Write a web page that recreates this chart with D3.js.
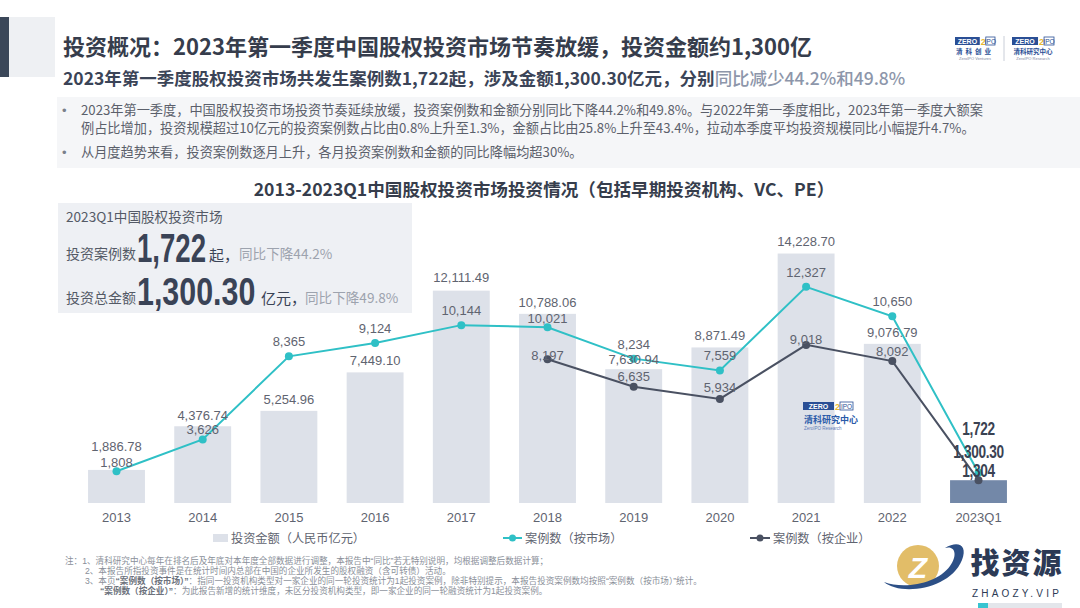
<!DOCTYPE html>
<html><head><meta charset="utf-8">
<script src="https://cdn.jsdelivr.net/npm/d3@7"></script>
<style>
body{margin:0;background:#fff;}
svg{display:block;}
text{font-family:"Liberation Sans","Noto Sans CJK SC",sans-serif;}
.cjk{font-family:"Noto Sans CJK SC","Liberation Sans",sans-serif;}
</style></head>
<body><svg id="c" width="1080" height="608"></svg>
<script>
// ---------- data ----------
const categories = ["2013","2014","2015","2016","2017","2018","2019","2020","2021","2022","2023Q1"];
const amount = [1886.78, 4376.74, 5254.96, 7449.10, 12111.49, 10788.06, 7630.94, 8871.49, 14228.70, 9076.79, 1300.30];
const casesMarket = [1808, 3626, 8365, 9124, 10144, 10021, 8234, 7559, 12327, 10650, 1722];
const casesCompany = [null, null, null, null, null, 8197, 6635, 5934, 9018, 8092, 1304];
const legendLabels = ["投资金额（人民币亿元）", "案例数（按市场）", "案例数（按企业）"];
const titleText = "投资概况：2023年第一季度中国股权投资市场节奏放缓，投资金额约1,300亿";
const subtitleMain = "2023年第一季度股权投资市场共发生案例数1,722起，涉及金额1,300.30亿元，分别";
const subtitleHi = "同比减少44.2%和49.8%";
const bullets = [
  ["2023年第一季度，中国股权投资市场投资节奏延续放缓，投资案例数和金额分别同比下降44.2%和49.8%。与2022年第一季度相比，2023年第一季度大额案",
   "例占比增加，投资规模超过10亿元的投资案例数占比由0.8%上升至1.3%，金额占比由25.8%上升至43.4%，拉动本季度平均投资规模同比小幅提升4.7%。"],
  ["从月度趋势来看，投资案例数逐月上升，各月投资案例数和金额的同比降幅均超30%。"]
];
const chartTitle = "2013-2023Q1中国股权投资市场投资情况（包括早期投资机构、VC、PE）";
const notes = [
  "注：1、清科研究中心每年在排名后及年底对本年度全部数据进行调整，本报告中“同比”若无特别说明，均根据调整后数据计算；",
  "2、本报告所指投资事件是在统计时间内总部在中国的企业所发生的股权融资（含可转债）活动。"
];

// label offset styles (center of label relative to anchor, px)
const barLabelOff = [-24, -11, -12, -12, -13, -12, -10, -12, -12.5, -12, -28.5];
const mktLabelOff = [-8.6, -10, -14.6, -14.7, -14.4, -9, -14.6, -14.7, -14.5, -14.5, -43.5];
const compLabelOff = [0, 0, 0, 0, 0, -4, -10, -12, -6, -9.5, -9.5];

const svg = d3.select("#c");
const fmt2 = d3.format(",.2f"), fmt0 = d3.format(",");

// ---------- header ----------
svg.append("rect").attr("x",0).attr("y",17).attr("width",9).attr("height",60).attr("fill","#3b4759");
svg.append("rect").attr("x",9).attr("y",17).attr("width",46).attr("height",60).attr("fill","#eef0f3");
svg.append("text").attr("class","cjk").attr("x",63).attr("y",55).attr("font-size",22).attr("font-weight",700)
  .attr("fill","#363d4c").text(titleText);
const sub = svg.append("text").attr("class","cjk").attr("x",63).attr("y",85).attr("font-size",17.5).attr("font-weight",700).attr("fill","#3b4457");
sub.append("tspan").text(subtitleMain);
sub.append("tspan").attr("fill","#8d96aa").attr("font-weight",500).text(subtitleHi);

// header logos
function zeroLogo(g, x, y, w){
  const bw = w*0.62;
  g.append("rect").attr("x",x).attr("y",y).attr("width",bw).attr("height",8).attr("fill","#2a4f95");
  g.append("text").attr("x",x+bw/2).attr("y",y+6.6).attr("text-anchor","middle").attr("font-size",7).attr("font-weight",700).attr("fill","#fff").text("ZERO");
  g.append("text").attr("x",x+bw+1).attr("y",y+7.5).attr("font-size",9).attr("font-weight",700).attr("fill","#e8b830").text("2");
  g.append("rect").attr("x",x+bw+6).attr("y",y).attr("width",w-bw-6).attr("height",8).attr("fill","#fff").attr("stroke","#2a4f95").attr("stroke-width",0.8);
  g.append("text").attr("x",x+bw+6+(w-bw-6)/2).attr("y",y+6.6).attr("text-anchor","middle").attr("font-size",6.5).attr("fill","#2a4f95").text("IPO");
}
const hl = svg.append("g");
zeroLogo(hl, 955, 37, 40);
hl.append("text").attr("class","cjk").attr("x",975).attr("y",54).attr("text-anchor","middle").attr("font-size",6.5).attr("font-weight",700).attr("fill","#2a4f95").attr("letter-spacing",3).text("清科创业");
hl.append("text").attr("x",975).attr("y",60).attr("text-anchor","middle").attr("font-size",4).attr("fill","#7f8aa3").text("ZeroIPO Ventures");
hl.append("line").attr("x1",1004).attr("x2",1004).attr("y1",36).attr("y2",61).attr("stroke","#c9ced8");
zeroLogo(hl, 1012, 37, 42);
hl.append("text").attr("class","cjk").attr("x",1033).attr("y",54).attr("text-anchor","middle").attr("font-size",6.5).attr("font-weight",700).attr("fill","#2a4f95").text("清科研究中心");
hl.append("text").attr("x",1033).attr("y",60).attr("text-anchor","middle").attr("font-size",4).attr("fill","#7f8aa3").text("ZeroIPO Research");

// ---------- bullets ----------
svg.append("rect").attr("x",57).attr("y",97).attr("width",1023).attr("height",71).attr("fill","#f5f6f8");
const bl = [[115,133],[157]];
bullets.forEach((lines,i)=>{
  svg.append("text").attr("x",62).attr("y",bl[i][0]).attr("font-size",13).attr("fill","#7a808b").text("•");
  lines.forEach((t,j)=>{
    svg.append("text").attr("class","cjk").attr("x",81).attr("y",bl[i][j]).attr("font-size",13.2).attr("fill","#5b606b").text(t);
  });
});

// ---------- chart title ----------
svg.append("text").attr("class","cjk").attr("x",544).attr("y",195.5).attr("text-anchor","middle")
  .attr("font-size",17.6).attr("font-weight",700).attr("fill","#363d4c").text(chartTitle);

// ---------- scales ----------
const x = d3.scaleBand().domain(categories).range([73.4, 1021.6]).paddingInner(0.34).paddingOuter(0.17);
const y = d3.scaleLinear().domain([0, 15000]).range([503, 240]);
const cx = c => x(c) + x.bandwidth()/2;
const last = categories.length - 1;

// bars
svg.append("g").selectAll("rect").data(categories).join("rect")
  .attr("x", c => x(c)).attr("width", x.bandwidth())
  .attr("y", (c,i) => y(amount[i])).attr("height", (c,i) => y(0) - y(amount[i]))
  .attr("fill", (c,i) => i === last ? "#7388a8" : "#dde1e9");

// watermark logo in chart
const wm = svg.append("g");
zeroLogo(wm, 803, 402, 50);
wm.append("text").attr("class","cjk").attr("x",804).attr("y",423).attr("font-size",9).attr("font-weight",700).attr("fill","#2a5aa8").text("清科研究中心");
wm.append("text").attr("x",804).attr("y",429.5).attr("font-size",4.5).attr("fill","#5f7db8").text("ZeroIPO Research");

// axis
const ax = svg.append("g").attr("transform","translate(0,503)")
  .call(d3.axisBottom(x).tickSize(0).tickPadding(10));
ax.select(".domain").remove();
ax.selectAll("text").attr("font-size",13).attr("fill","#5f6470").attr("font-family","Liberation Sans, sans-serif");

// lines
const mktLine = d3.line().x((d,i)=>cx(categories[i])).y(d=>y(d));
svg.append("path").datum(casesMarket).attr("d", mktLine).attr("fill","none").attr("stroke","#2fc0c6").attr("stroke-width",2);
const compPts = casesCompany.map((v,i)=>({c:categories[i], v})).filter(d=>d.v!=null);
svg.append("path").datum(compPts).attr("d", d3.line().x(d=>cx(d.c)).y(d=>y(d.v)))
  .attr("fill","none").attr("stroke","#4a5162").attr("stroke-width",2);
svg.append("g").selectAll("circle").data(casesMarket).join("circle")
  .attr("cx",(d,i)=>cx(categories[i])).attr("cy",d=>y(d)).attr("r",4).attr("fill","#2fc0c6");
svg.append("g").selectAll("circle").data(compPts).join("circle")
  .attr("cx",d=>cx(d.c)).attr("cy",d=>y(d.v)).attr("r",4).attr("fill","#4a5162");

// labels
function label(xp, yc, txt, bold){
  const t = svg.append("text").attr("text-anchor","middle").text(txt);
  if(bold){
    t.attr("transform",`translate(${xp},${yc+6}) scale(0.78,1)`)
     .attr("font-weight",700).attr("font-size",17.5).attr("fill","#3a4252").attr("letter-spacing",-0.4);
  } else {
    t.attr("x",xp).attr("y",yc+4.7).attr("font-size",13).attr("fill","#5f6470");
  }
}
categories.forEach((c,i)=>{
  const b = i===last;
  label(cx(c), y(amount[i]) + barLabelOff[i], fmt2(amount[i]), b);
  label(cx(c), y(casesMarket[i]) + mktLabelOff[i], fmt0(casesMarket[i]), b);
  if(casesCompany[i]!=null) label(cx(c), y(casesCompany[i]) + compLabelOff[i], fmt0(casesCompany[i]), b);
});

// ---------- info box ----------
svg.append("rect").attr("x",58).attr("y",203).attr("width",354).attr("height",110).attr("fill","#eef0f4");
svg.append("text").attr("class","cjk").attr("x",66).attr("y",222).attr("font-size",13.6).attr("fill","#545a66").text("2023Q1中国股权投资市场");
svg.append("text").attr("class","cjk").attr("x",66).attr("y",259).attr("font-size",14).attr("fill","#545a66").text("投资案例数");
svg.append("text").attr("transform","translate(137,262) scale(0.69,1)").attr("font-size",40).attr("font-weight",700).attr("fill","#3a4356")
  .text(fmt0(casesMarket[last]));
svg.append("text").attr("class","cjk").attr("x",209).attr("y",261).attr("font-size",15).attr("fill","#3a4356").text("起，");
svg.append("text").attr("class","cjk").attr("x",239).attr("y",259).attr("font-size",13.6).attr("fill","#9da3ae").text("同比下降44.2%");
svg.append("text").attr("class","cjk").attr("x",66).attr("y",303).attr("font-size",14).attr("fill","#545a66").text("投资总金额");
svg.append("text").attr("transform","translate(137,305) scale(0.78,1)").attr("font-size",39).attr("font-weight",700).attr("fill","#3a4356")
  .text(fmt2(amount[last]));
svg.append("text").attr("class","cjk").attr("x",261).attr("y",304).attr("font-size",15).attr("fill","#3a4356").text("亿元，");
svg.append("text").attr("class","cjk").attr("x",305).attr("y",303).attr("font-size",13.6).attr("fill","#9da3ae").text("同比下降49.8%");

// ---------- legend ----------
const lg = svg.append("g");
lg.append("rect").attr("x",213).attr("y",534).attr("width",15).attr("height",8).attr("fill","#dde1e9");
lg.append("text").attr("class","cjk").attr("x",231).attr("y",543).attr("font-size",12.2).attr("fill","#5f6470").text(legendLabels[0]);
lg.append("line").attr("x1",503).attr("x2",522).attr("y1",538).attr("y2",538).attr("stroke","#2fc0c6").attr("stroke-width",2);
lg.append("circle").attr("cx",512.5).attr("cy",538).attr("r",3.5).attr("fill","#2fc0c6");
lg.append("text").attr("class","cjk").attr("x",525).attr("y",543).attr("font-size",12.2).attr("fill","#5f6470").text(legendLabels[1]);
lg.append("line").attr("x1",750).attr("x2",770).attr("y1",538).attr("y2",538).attr("stroke","#4a5162").attr("stroke-width",2);
lg.append("circle").attr("cx",760).attr("cy",538).attr("r",3.5).attr("fill","#4a5162");
lg.append("text").attr("class","cjk").attr("x",773).attr("y",543).attr("font-size",12.2).attr("fill","#5f6470").text(legendLabels[2]);

// ---------- notes ----------
const nf = 8.6, nc = "#8a8f99";
svg.append("text").attr("x",65).attr("y",564).attr("font-size",nf).attr("fill",nc).text(notes[0]);
svg.append("text").attr("x",85).attr("y",574).attr("font-size",nf).attr("fill",nc).text(notes[1]);
const n3 = svg.append("text").attr("x",85).attr("y",584).attr("font-size",nf).attr("fill",nc);
n3.append("tspan").text("3、本页");
n3.append("tspan").attr("font-weight",700).attr("fill","#6d727c").text("“案例数（按市场）”");
n3.append("tspan").text("：指同一投资机构类型对一家企业的同一轮投资统计为1起投资案例，除非特别提示，本报告投资案例数均按照“案例数（按市场）”统计。");
const n4 = svg.append("text").attr("x",100).attr("y",594).attr("font-size",nf).attr("fill",nc);
n4.append("tspan").attr("font-weight",700).attr("fill","#6d727c").text("“案例数（按企业）”");
n4.append("tspan").text("：为此报告新增的统计维度，未区分投资机构类型，即一家企业的同一轮融资统计为1起投资案例。");

// ---------- bottom-right watermark ----------
const bw = svg.append("g");
bw.append("circle").attr("cx",918).attr("cy",566).attr("r",21).attr("fill","#e2bd68");
bw.append("path").attr("d","M884,582 C900,596 950,590 962,560 C968,545 958,540 945,548 C955,545 958,555 950,566 C938,583 905,590 884,582 Z").attr("fill","#2c4f86");
bw.append("text").attr("x",918).attr("y",578).attr("text-anchor","middle").attr("font-size",30).attr("font-weight",700).attr("fill","#fff").attr("font-style","italic").text("Z");
bw.append("text").attr("class","cjk").attr("x",1017).attr("y",574).attr("text-anchor","middle").attr("font-size",29).attr("font-weight",900).attr("fill","#2c3a55").attr("letter-spacing",2).text("找资源");
bw.append("text").attr("x",1017).attr("y",597).attr("text-anchor","middle").attr("font-size",10).attr("fill","#2c3a55").attr("letter-spacing",3.2).text("ZHAOZY.VIP");
bw.append("rect").attr("x",978).attr("y",603).attr("width",10).attr("height",5).attr("fill","#37c4d1");
bw.append("rect").attr("x",988).attr("y",603).attr("width",74).attr("height",5).attr("fill","#e3e6eb");
</script></body></html>
